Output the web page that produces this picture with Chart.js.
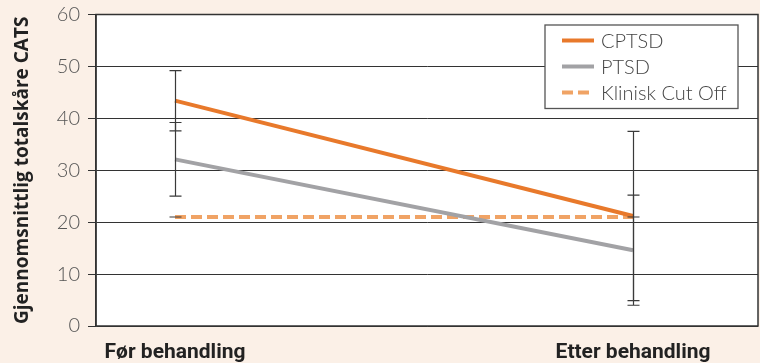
<!DOCTYPE html>
<html>
<head>
<meta charset="utf-8">
<script src="https://cdn.jsdelivr.net/npm/chart.js@4/dist/chart.umd.min.js"></script>
<style>
  html, body { margin: 0; padding: 0; background: #FBF0E7; }
  #wrap { width: 760px; height: 363px; }
</style>
</head>
<body>
<div id="wrap"><canvas id="c" width="760" height="363"></canvas></div>
<script>
// Measurement points
const categories = ['Før behandling', 'Etter behandling'];

// Mean CATS total score and standard deviation per group
const cptsdMean = [43.4, 21.2];
const cptsdSd   = [5.8, 16.3];
const ptsdMean  = [32.1, 14.6];
const ptsdSd    = [7.1, 10.6];
const cutoff    = [21, 21];
const cutoffSd  = [0, 0];

// Y axis ticks
const yTicks = [0, 10, 20, 30, 40, 50, 60];

const seriesLabels = ['CPTSD', 'PTSD', 'Klinisk Cut Off'];

const toPoints = arr => arr.map((v, i) => ({ x: i, y: v }));

// White plot area on the tinted page
const plotBackground = {
  id: 'plotBackground',
  beforeDraw(chart) {
    const { ctx, chartArea: a } = chart;
    ctx.save();
    ctx.fillStyle = '#ffffff';
    ctx.fillRect(a.left, a.top, a.right - a.left, a.bottom - a.top);
    ctx.restore();
  }
};

// Standard deviation whiskers with caps
const errorBars = {
  id: 'errorBars',
  afterDatasetsDraw(chart) {
    const { ctx, scales: { x, y } } = chart;
    ctx.save();
    ctx.strokeStyle = '#3a3a3a';
    ctx.lineWidth = 1.2;
    chart.data.datasets.forEach(ds => {
      if (!ds.sd) return;
      ds.data.forEach((p, i) => {
        const px = Math.round(x.getPixelForValue(p.x)) + 0.5;
        const top = y.getPixelForValue(p.y + ds.sd[i]);
        const bot = y.getPixelForValue(p.y - ds.sd[i]);
        ctx.beginPath();
        ctx.moveTo(px, top); ctx.lineTo(px, bot);
        ctx.moveTo(px - 6, top); ctx.lineTo(px + 6, top);
        ctx.moveTo(px - 6, bot); ctx.lineTo(px + 6, bot);
        ctx.stroke();
      });
    });
    ctx.restore();
  }
};

// Frame around the plot and the boxed legend in its upper right corner
const frameAndLegend = {
  id: 'frameAndLegend',
  afterDraw(chart) {
    const { ctx, chartArea: a } = chart;
    ctx.save();
    ctx.strokeStyle = '#333333';
    ctx.lineWidth = 1.5;
    ctx.strokeRect(a.left, a.top, a.right - a.left, a.bottom - a.top);

    const bx = a.right - 213, by = a.top + 10.5, bw = 193, bh = 83.5;
    ctx.fillStyle = '#ffffff';
    ctx.fillRect(bx, by, bw, bh);
    ctx.strokeStyle = '#555555';
    ctx.lineWidth = 1.3;
    ctx.strokeRect(bx, by, bw, bh);

    ctx.font = '300 20px Lato';
    ctx.textBaseline = 'middle';
    ctx.textAlign = 'left';
    chart.data.datasets.forEach((ds, i) => {
      const ry = by + 15.5 + i * 26;
      ctx.beginPath();
      ctx.strokeStyle = ds.borderColor;
      ctx.lineWidth = 4;
      ctx.setLineDash(ds.borderDash || []);
      ctx.moveTo(bx + 17, ry);
      ctx.lineTo(bx + 49, ry);
      ctx.stroke();
      ctx.setLineDash([]);
      ctx.fillStyle = '#444444';
      ctx.fillText(ds.label, bx + 56, ry + 1);
    });
    ctx.restore();
  }
};

new Chart(document.getElementById('c'), {
  type: 'line',
  data: {
    datasets: [
      { label: seriesLabels[0], data: toPoints(cptsdMean), sd: cptsdSd,
        borderColor: '#E8792B', borderWidth: 4 },
      { label: seriesLabels[1], data: toPoints(ptsdMean), sd: ptsdSd,
        borderColor: '#A2A2A5', borderWidth: 4 },
      { label: seriesLabels[2], data: toPoints(cutoff), sd: cutoffSd,
        borderColor: '#F0A365', borderWidth: 4, borderDash: [11, 5] }
    ]
  },
  options: {
    responsive: false,
    animation: false,
    layout: { padding: { top: 14.5, right: 2, bottom: 0, left: 0 } },
    elements: { point: { radius: 0 }, line: { tension: 0, borderCapStyle: 'butt' } },
    plugins: { legend: { display: false }, tooltip: { enabled: false } },
    scales: {
      x: {
        type: 'linear',
        min: -0.1725,
        max: 1.2728,
        afterBuildTicks(scale) { scale.ticks = categories.map((_, i) => ({ value: i })); },
        afterFit(scale) { scale.height = 37; scale.paddingLeft = 0; scale.paddingRight = 0; },
        grid: { display: false, drawTicks: false },
        border: { display: false },
        ticks: {
          autoSkip: false,
          maxRotation: 0,
          padding: 14,
          color: '#222222',
          font: { family: 'Roboto', weight: 'bold', size: 21 },
          callback: v => categories[v]
        }
      },
      y: {
        min: 0,
        max: 60,
        afterBuildTicks(scale) { scale.ticks = yTicks.map(v => ({ value: v })); },
        afterFit(scale) { scale.width = 96; scale.paddingTop = 0; scale.paddingBottom = 0; },
        grid: { color: '#333333', lineWidth: 1, tickLength: 8, tickColor: '#333333' },
        border: { color: '#333333', width: 1.5 },
        ticks: {
          padding: 8,
          color: '#555555',
          font: { family: 'Lato', weight: '300', size: 20 }
        },
        title: {
          display: true,
          text: 'Gjennomsnittlig totalskåre CATS',
          color: '#222222',
          padding: { top: 11, bottom: 0 },
          font: { family: 'Open Sans', weight: 'bold', size: 19 }
        }
      }
    }
  },
  plugins: [plotBackground, errorBars, frameAndLegend]
});
</script>
</body>
</html>
